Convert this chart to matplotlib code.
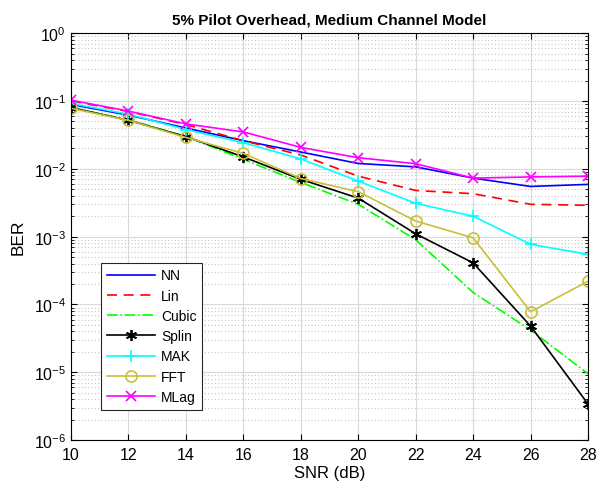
import numpy as np
import matplotlib.pyplot as plt
from matplotlib.ticker import LogLocator, NullFormatter

plt.rcParams['font.family'] = ['Liberation Sans', 'DejaVu Sans']

snr = [10, 12, 14, 16, 18, 20, 22, 24, 26, 28]

ber_nn = [0.089, 0.062, 0.040, 0.026, 0.0177, 0.012, 0.0107, 0.0073, 0.0055, 0.0059]
ber_lin = [0.100, 0.070, 0.045, 0.026, 0.0160, 0.0078, 0.0048, 0.0043, 0.0030, 0.0029]
ber_cubic = [0.080, 0.053, 0.030, 0.0138, 0.0063, 0.0030, 0.00090, 0.000150, 0.000042, 0.0000095]
ber_splin = [0.080, 0.052, 0.0298, 0.015, 0.0070, 0.0037, 0.0011, 0.00041, 0.000048, 0.0000034]
ber_mak = [0.092, 0.064, 0.038, 0.0243, 0.0140, 0.0066, 0.0031, 0.0020, 0.00077, 0.00055]
ber_fft = [0.078, 0.052, 0.029, 0.0169, 0.0072, 0.0046, 0.0017, 0.00096, 0.000078, 0.00022]
ber_mlag = [0.103, 0.071, 0.046, 0.035, 0.0207, 0.0146, 0.0119, 0.0073, 0.0076, 0.0078]

fig = plt.figure(figsize=(5.97, 4.89), dpi=100)
ax = fig.add_axes([0.119, 0.098, 0.866, 0.832])

ax.semilogy(snr, ber_nn, '-', color='#0000ff', lw=1.2, label='NN')
ax.semilogy(snr, ber_lin, '--', color='#ff0000', lw=1.2, dashes=(6, 4), label='Lin')
ax.semilogy(snr, ber_cubic, '-.', color='#00ff00', lw=1.2, label='Cubic')
ax.semilogy(snr, ber_splin, '-', color='black', lw=1.2, marker=(6, 2, 0), ms=8, mew=1.3, label='Splin')
ax.semilogy(snr, ber_mak, '-', color='#00ffff', lw=1.2, marker='+', ms=9, mew=1.2, label='MAK')
ax.semilogy(snr, ber_fft, '-', color='#c8c03a', lw=1.2, marker='o', ms=8, mfc='none', mew=1.2, label='FFT')
ax.semilogy(snr, ber_mlag, '-', color='#ff00ff', lw=1.2, marker='x', ms=7, mew=1.2, label='MLag')

ax.set_xlim(10, 28)
ax.set_ylim(1e-6, 1)
ax.set_xticks(np.arange(10, 29, 2))
ax.yaxis.set_major_locator(LogLocator(base=10, numticks=10))
ax.yaxis.set_minor_locator(LogLocator(base=10, subs=np.arange(2, 10), numticks=10))
ax.yaxis.set_minor_formatter(NullFormatter())

ax.grid(True, which='major', color='#d9d9d9', lw=0.8, ls='-')
ax.grid(True, which='minor', axis='y', color='#c8c8c8', lw=0.8, ls=(0, (1, 2)))
ax.tick_params(which='both', direction='in', top=True, right=True, labelsize=11.5)
ax.tick_params(which='major', length=4)
ax.tick_params(which='minor', length=2)
ax.tick_params(axis='x', pad=5)
for s in ax.spines.values():
    s.set_linewidth(0.8)

ax.set_xlabel('SNR (dB)', fontsize=12, labelpad=2)
ax.set_ylabel('BER', fontsize=12.5, labelpad=6)
ax.set_title('5% Pilot Overhead, Medium Channel Model', fontsize=11, fontweight='bold', pad=7)

leg = ax.legend(loc='lower left', bbox_to_anchor=(0.045, 0.058), fontsize=10,
                fancybox=False, framealpha=1, edgecolor='#262626',
                handlelength=3.5, handletextpad=0.4, borderpad=0.4, labelspacing=0.45)
leg.get_frame().set_linewidth(0.8)

fig.savefig('out.png', dpi=100)
